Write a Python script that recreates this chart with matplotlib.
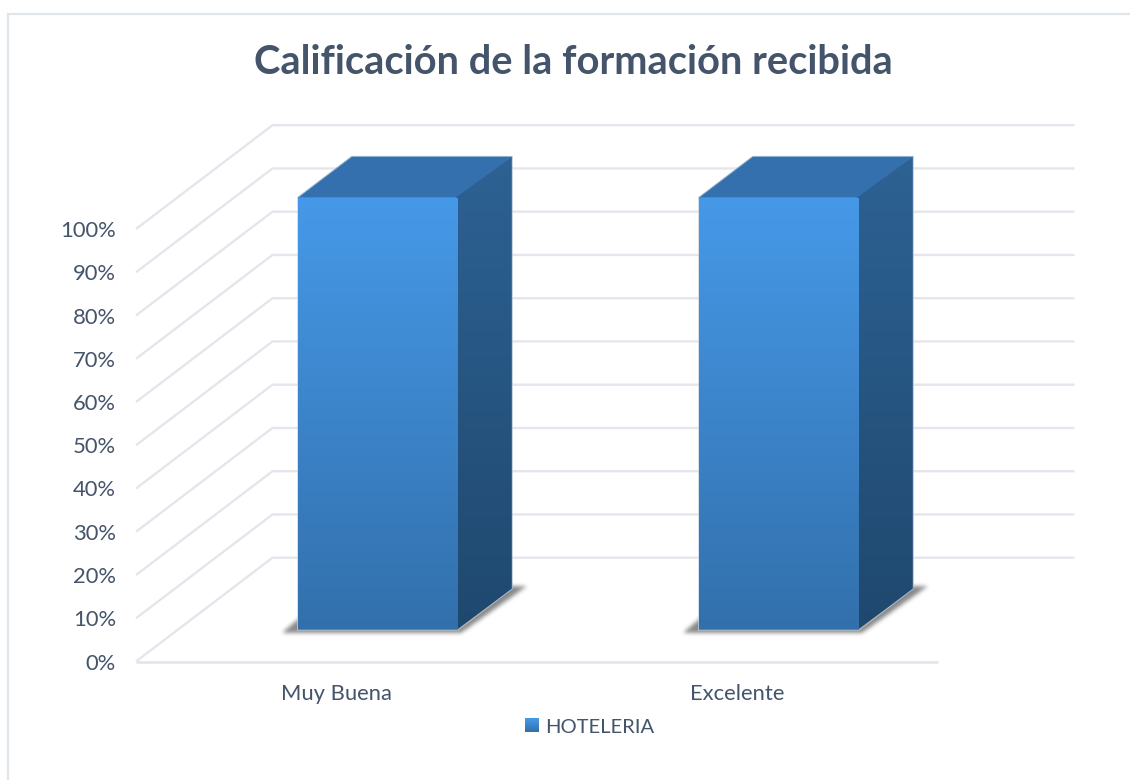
import numpy as np
import matplotlib
matplotlib.use("Agg")
import matplotlib.pyplot as plt
from matplotlib.patches import Polygon, Rectangle
from matplotlib.path import Path
from matplotlib.colors import LinearSegmentedColormap
from matplotlib.legend_handler import HandlerBase

# ---- data ----
categories = ["Muy Buena", "Excelente"]
series_name = "HOTELERIA"
values = [100, 100]
y_ticks = [0, 10, 20, 30, 40, 50, 60, 70, 80, 90, 100]
y_tick_labels = ["0%", "10%", "20%", "30%", "40%", "50%", "60%", "70%", "80%", "90%", "100%"]
title = "Calificación de la formación recibida"

# ---- style ----
W, H = 1130, 780
TXT = "#44546A"
GRID = "#E3E6EC"
FONT = "Lato"
plt.rcParams["font.family"] = [FONT, "DejaVu Sans"]

fig = plt.figure(figsize=(W / 100, H / 100), dpi=100, facecolor="white")
L, R, T, B = 136, 938, 229, 661.5
ax = fig.add_axes([L / W, 1 - B / H, (R - L) / W, (B - T) / H])
ax.set_xlim(0, len(categories))
ax.set_ylim(0, 100)
ax.axis("off")

PX = len(categories) / (R - L)     # data x units per pixel
PY = 100 / (B - T)                 # data y units per pixel
DX = 136.5 * PX
DY = 103.8 * PY


def proj(x, v, d=0.0):
    return x + DX * d, v + DY * d


# chart border (top and left)
fig.add_artist(plt.Line2D([8 / W, 8 / W], [1 - 14 / H, 0], color="#E0E5EC", lw=1.6))
fig.add_artist(plt.Line2D([8 / W, 1], [1 - 14 / H, 1 - 14 / H], color="#E0E5EC", lw=1.6))

# gridlines on side wall and back wall
for t in y_ticks:
    p0 = proj(0, t, 0)
    p1 = proj(0, t, 1)
    p2 = proj(len(categories), t, 1)
    ax.plot([p0[0], p1[0], p2[0]], [p0[1], p1[1], p2[1]], color=GRID, lw=1.7,
            solid_joinstyle="miter", solid_capstyle="butt", clip_on=False, zorder=1)
ax.plot([0, len(categories)], [0, 0], color=GRID, lw=2.0, solid_capstyle="butt", clip_on=False, zorder=1)


def gradient_face(verts, c_top, c_bot, zorder):
    poly = Polygon(verts, closed=True, transform=ax.transData, facecolor="none", edgecolor="none")
    ax.add_patch(poly)
    xs, ys = zip(*verts)
    cmap = LinearSegmentedColormap.from_list("g", [c_top, c_bot])
    grad = np.linspace(0, 1, 256).reshape(-1, 1)
    im = ax.imshow(grad, cmap=cmap, extent=(min(xs), max(xs), min(ys), max(ys)),
                   origin="upper", aspect="auto", zorder=zorder, interpolation="bilinear")
    im.set_clip_box(fig.bbox)
    im.set_clip_path(poly)


def soft_shadow(pts, sigma_px=2.0, max_alpha=0.62, zorder=2):
    """Blurred polygon, sampled on a grid of about one pixel."""
    pts = np.array(pts)
    m = 10
    x0, x1 = pts[:, 0].min() - m * PX, pts[:, 0].max() + m * PX
    y0, y1 = pts[:, 1].min() - m * PY, pts[:, 1].max() + m * PY
    nx, ny = int((x1 - x0) / PX), int((y1 - y0) / PY)
    xx, yy = np.meshgrid(np.linspace(x0, x1, nx), np.linspace(y0, y1, ny))
    mask = Path(pts).contains_points(np.c_[xx.ravel(), yy.ravel()]).reshape(ny, nx).astype(float)
    r = np.arange(-6, 7)
    k = np.exp(-r ** 2 / (2 * sigma_px ** 2))
    k /= k.sum()
    mask = np.apply_along_axis(lambda c: np.convolve(c, k, mode="same"), 0, mask)
    mask = np.apply_along_axis(lambda c: np.convolve(c, k, mode="same"), 1, mask)
    rgba = np.zeros((ny, nx, 4))
    rgba[..., :3] = 0.25
    rgba[..., 3] = mask * max_alpha
    im = ax.imshow(rgba, extent=(x0, x1, y0, y1), origin="lower", aspect="auto", zorder=zorder,
                   interpolation="bilinear")
    im.set_clip_box(fig.bbox)


BAR_W = 0.4
D0, D1 = 0.302, 0.70
for i, v in enumerate(values):
    x0 = i + 0.5 - BAR_W / 2
    x1 = i + 0.5 + BAR_W / 2
    a, b, c, d = proj(x0, 0, D0), proj(x1, 0, D0), proj(x1, 0, D1), proj(x0, 0, D1)
    soft_shadow([(a[0] - 16 * PX, a[1] - 3 * PY),
                 (b[0] + 3 * PX, b[1] - 3 * PY),
                 (c[0] + 14 * PX, c[1] + 2.5 * PY),
                 (d[0] - 16 * PX, d[1] + 2.5 * PY)])
    # top face
    top = [proj(x0, v, D0), proj(x1, v, D0), proj(x1, v, D1), proj(x0, v, D1)]
    ax.add_patch(Polygon(top, closed=True, facecolor="#3470AD", edgecolor="#3470AD", lw=0.4,
                         zorder=3, clip_on=False))
    # side face, running slightly under the front face so that no seam shows
    side = [proj(x1, 0, D0), proj(x1, v, D0), proj(x1, v, D1), proj(x1, 0, D1)]
    side_fill = [(side[0][0] - 2 * PX, side[0][1]), (side[1][0] - 2 * PX, side[1][1]), side[2], side[3]]
    gradient_face(side_fill, "#2D6294", "#1F486E", 3)
    # front face
    front = [proj(x0, 0, D0), proj(x1, 0, D0), proj(x1, v, D0), proj(x0, v, D0)]
    gradient_face(front, "#4699E8", "#3270AC", 4)
    # faint outline of the bar
    outline = [front[0], front[1], side[3], side[2], top[3], top[0], front[0]]
    ax.plot(*zip(*outline), color="#C5D2E2", lw=0.7, zorder=5, alpha=0.7, clip_on=False)

ax.set_xlim(0, len(categories))
ax.set_ylim(0, 100)

# tick labels
FS = 15.8
for t, lab in zip(y_ticks, y_tick_labels):
    ax.annotate(lab, (0, t), xytext=(-20 * 0.72, -2 * 0.72), textcoords="offset points", ha="right",
                va="center", color=TXT, fontsize=FS, annotation_clip=False)
for i, c in enumerate(categories):
    ax.annotate(c, (i + 0.5, 0), xytext=(0, -33 * 0.72), textcoords="offset points", ha="center",
                va="center", color=TXT, fontsize=FS, annotation_clip=False)

fig.text(573.5 / W, 1 - 63 / H, title, ha="center", va="center", color=TXT, fontsize=28.7,
         fontweight="bold")


# legend with a gradient swatch
class GradientHandler(HandlerBase):
    def create_artists(self, legend, orig, xd, yd, w, h, fontsize, trans):
        cmap = LinearSegmentedColormap.from_list("g", ["#4699E8", "#3270AC"])
        n = 14
        return [Rectangle((xd * -1, yd * -1 + h * (1 - (j + 1) / n)), w, h / n * 1.05,
                          facecolor=cmap(j / (n - 1)), edgecolor="none", transform=trans)
                for j in range(n)]


handle = Rectangle((0, 0), 1, 1, facecolor="#3F88CC")
fig.legend(handles=[handle], labels=[series_name], loc="center", bbox_to_anchor=(589.5 / W, 1 - 727 / H),
           frameon=False, fontsize=14.5, labelcolor=TXT, handlelength=0.69, handleheight=0.69,
           handletextpad=0.3, borderpad=0, handler_map={Rectangle: GradientHandler()})

fig.savefig("out.png", dpi=100, facecolor="white")
